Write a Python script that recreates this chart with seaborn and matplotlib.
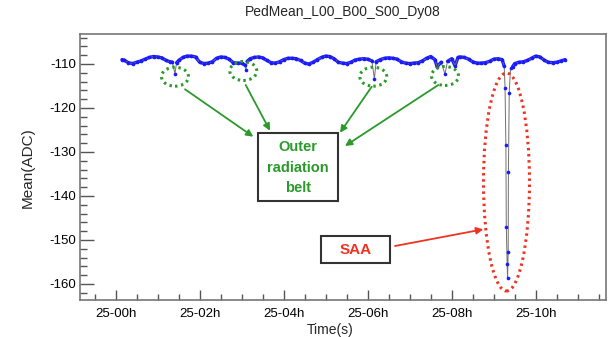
import numpy as np
import pandas as pd
import matplotlib
matplotlib.use('Agg')
import matplotlib.pyplot as plt
from matplotlib.patches import Ellipse, Rectangle
from matplotlib.ticker import MultipleLocator, FuncFormatter
import seaborn as sns

# hours after 25-00h, pedestal mean (ADC)
hours = [0.15, 0.2, 0.3, 0.4, 0.5, 0.6, 0.7, 0.8, 0.9, 1.0, 1.1, 1.2, 1.3, 1.35, 1.41, 1.45,
         1.5, 1.6, 1.7, 1.8, 1.9, 2.0, 2.1, 2.2, 2.3, 2.4, 2.5, 2.6, 2.7, 2.8, 2.9, 3.0,
         3.07, 3.10, 3.13, 3.2, 3.3, 3.4, 3.5, 3.6, 3.7, 3.8, 3.9, 4.0, 4.1, 4.2, 4.3, 4.4,
         4.5, 4.6, 4.7, 4.8, 4.9, 5.0, 5.1, 5.2, 5.3, 5.4, 5.5, 5.6, 5.7, 5.8, 5.9, 6.0,
         6.1, 6.16, 6.2, 6.3, 6.4, 6.5, 6.6, 6.7, 6.8, 6.9, 7.0, 7.1, 7.2, 7.3, 7.4, 7.5,
         7.6, 7.65, 7.75, 7.84, 7.9, 8.0, 8.08, 8.15, 8.2, 8.3, 8.4, 8.5, 8.6, 8.7, 8.8, 8.9,
         9.0, 9.1, 9.2, 9.25, 9.27, 9.29, 9.30, 9.32, 9.33, 9.345, 9.35, 9.37, 9.40, 9.45,
         9.5, 9.6, 9.7, 9.8, 9.9, 10.0, 10.1, 10.2, 10.3, 10.4, 10.5, 10.6, 10.7]
ped_mean = [-109.0, -109.1, -109.7, -109.9, -109.6, -109.3, -108.9, -108.5, -108.3, -108.4, -108.6, -109.2, -109.5, -109.6, -112.2, -109.7,
            -109.2, -108.5, -108.2, -108.2, -108.4, -109.6, -109.9, -109.8, -109.5, -108.7, -108.4, -108.5, -108.9, -109.7, -109.8, -109.8,
            -110.2, -111.3, -109.4, -108.8, -108.5, -108.4, -108.6, -109.2, -109.7, -109.8, -109.5, -109.0, -108.7, -108.7, -108.8, -109.2,
            -109.8, -110.0, -109.6, -109.0, -108.5, -108.2, -108.3, -108.8, -109.6, -109.8, -109.9, -109.6, -109.1, -108.9, -108.8, -108.9,
            -109.3, -113.4, -109.5, -109.0, -108.7, -108.6, -108.7, -108.9, -109.5, -109.8, -109.9, -109.8, -109.7, -109.3, -108.7, -108.3,
            -109.0, -110.6, -109.6, -112.3, -109.4, -108.8, -110.4, -108.5, -108.4, -108.5, -108.9, -109.5, -109.8, -109.8, -109.7, -109.4,
            -108.9, -108.8, -109.0, -110.5, -115.4, -128.4, -147.0, -155.5, -158.7, -152.7, -134.6, -116.5, -111.0, -110.6,
            -109.9, -109.6, -109.5, -109.2, -108.7, -108.2, -108.4, -109.1, -109.6, -109.7, -109.6, -109.3, -109.0]

x_ticks = [0, 2, 4, 6, 8, 10]
title = 'PedMean_L00_B00_S00_Dy08'

df = pd.DataFrame({'t': hours, 'v': ped_mean})
# runs of "quiet" points form the dense blue band; dips are only joined by the grey line
quiet = df['v'] > -110.8
df['run'] = (quiet != quiet.shift()).cumsum()
band = df[quiet]

sns.set_style('white')
plt.rcParams['font.family'] = ['Liberation Sans', 'DejaVu Sans']
plt.rcParams['axes.unicode_minus'] = False

fig = plt.figure(figsize=(6.1, 3.37), dpi=100)
ax = fig.add_axes([80 / 610, 37 / 337, 526 / 610, 266 / 337])

def px(x, y):
    # picture pixel -> data coords (used only for annotation placement)
    return (x - 115.7) / 42.0, -110 - (y - 64) / 4.4

sns.lineplot(data=band, x='t', y='v', units='run', estimator=None, sort=False,
             color='#1a1aff', lw=2.4, ax=ax, zorder=2)
sns.lineplot(data=df, x='t', y='v', estimator=None, sort=False,
             color='#707070', lw=0.7, ax=ax, zorder=3)
sns.scatterplot(data=df, x='t', y='v', color='#1a1aff', s=7, marker='o',
                linewidth=0, ax=ax, zorder=4)

ax.set_xlim(px(80, 0)[0], px(606, 0)[0])
ax.set_ylim(px(0, 300)[1], px(0, 34)[1])

green = '#2a9a2a'
red = '#ee3322'
# outer radiation belt circles
for cx, cy in [(175, 76.7), (243.3, 71), (373.3, 76.7), (445, 76)]:
    c = px(cx, cy)
    ax.add_patch(Ellipse(c, 27 / 42, 19 / 4.4, fill=False, ec=green, lw=2.2,
                         ls=(0, (0.8, 1.2)), zorder=5))
# SAA ellipse
ax.add_patch(Ellipse(px(506.5, 182), 46 / 42, 218 / 4.4, fill=False, ec=red, lw=2.2,
                     ls=(0, (0.8, 1.2)), zorder=5))

for (x0, y0), (x1, y1) in [((185, 89.3), (253.3, 136.7)), ((245.7, 85), (270, 130.7)),
                           ((371.7, 86.7), (340, 132.7)), ((438.3, 85), (345, 146))]:
    ax.annotate('', xy=px(x1, y1), xytext=px(x0, y0),
                arrowprops=dict(arrowstyle='-|>', color=green, lw=1.3,
                                mutation_scale=10, shrinkA=0, shrinkB=0), zorder=6)

bx0, by0 = px(257.7, 200.7)
bx1, by1 = px(338.3, 133.3)
ax.add_patch(Rectangle((bx0, by0), bx1 - bx0, by1 - by0, fc='white', ec='#333333', lw=1.5, zorder=6))
ax.text(*px(298, 167.5), 'Outer\nradiation\nbelt', color=green, fontsize=10.5, fontweight='bold',
        ha='center', va='center', linespacing=1.6, zorder=7)

sx0, sy0 = px(321, 263.3)
sx1, sy1 = px(390, 236)
ax.add_patch(Rectangle((sx0, sy0), sx1 - sx0, sy1 - sy0, fc='white', ec='#333333', lw=1.5, zorder=6))
ax.text(*px(355.5, 250), 'SAA', color=red, fontsize=11, fontweight='bold',
        ha='center', va='center', zorder=7)
ax.annotate('', xy=px(483.3, 229.3), xytext=px(395, 246),
            arrowprops=dict(arrowstyle='-|>', color=red, lw=1.3, mutation_scale=10,
                            shrinkA=0, shrinkB=0), zorder=6)

ax.xaxis.set_major_locator(plt.FixedLocator(x_ticks))
ax.xaxis.set_major_formatter(FuncFormatter(lambda v, p: '25-%02dh' % int(round(v))))
ax.xaxis.set_minor_locator(MultipleLocator(0.5))
ax.yaxis.set_major_locator(MultipleLocator(10))
ax.yaxis.set_minor_locator(MultipleLocator(2))
ax.tick_params(which='both', direction='in', colors='#555555', labelcolor='black',
               bottom=True, left=True, top=False, right=False)
ax.tick_params(axis='y', which='major', length=10, width=1, labelsize=9.5, pad=3)
ax.tick_params(axis='y', which='minor', length=5, width=1)
ax.tick_params(axis='x', which='major', length=7, width=1, labelsize=9.5, pad=6)
ax.tick_params(axis='x', which='minor', length=4, width=1)
for s in ax.spines.values():
    s.set_color('#777777')
    s.set_linewidth(1.2)

ax.set_xlabel('Time(s)', fontsize=10)
ax.xaxis.set_label_coords((330 - 80) / 526, -0.085)
ax.set_ylabel('Mean(ADC)', fontsize=11)
ax.yaxis.set_label_coords(-0.086, 0.498)
ax.set_title(title, fontsize=10, pad=13)

fig.savefig('out.png', dpi=100)
